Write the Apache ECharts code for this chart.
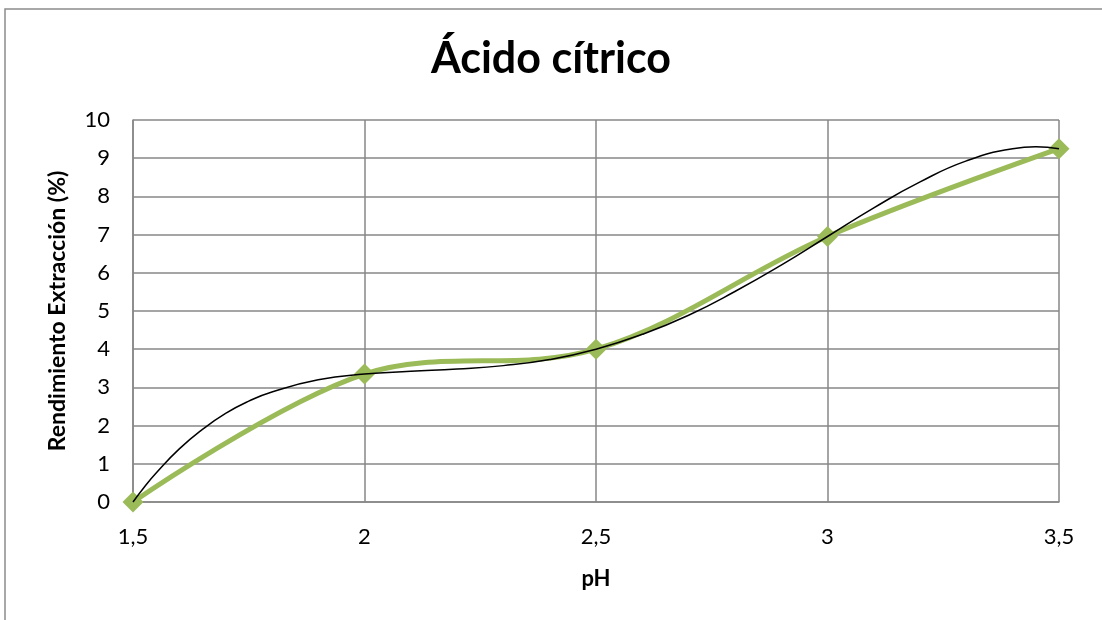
<!DOCTYPE html>
<html>
<head>
<meta charset="utf-8">
<script src="https://cdn.jsdelivr.net/npm/echarts@6/dist/echarts.min.js"></script>
<style>
html,body{margin:0;padding:0;background:#fff;}
#chart{width:1102px;height:620px;}
</style>
</head>
<body>
<div id="chart"></div>
<script>
// Data
const pH = [1.5, 2, 2.5, 3, 3.5];
const rendimiento = [0, 3.35, 4.0, 6.95, 9.25];
// Trend curve (thin black)
const trendX = [1.5, 1.525, 1.55, 1.6, 1.65, 1.7, 1.75, 1.8, 1.9, 2.0, 2.1, 2.2, 2.3, 2.4, 2.5, 2.6, 2.7, 2.8, 2.9, 3.0, 3.1, 3.2, 3.3, 3.4, 3.45, 3.5];
const trendY = [0, 0.40, 0.76, 1.39, 1.90, 2.32, 2.64, 2.88, 3.20, 3.35, 3.42, 3.48, 3.57, 3.73, 4.0, 4.39, 4.89, 5.51, 6.20, 6.95, 7.70, 8.38, 8.93, 9.25, 9.30, 9.25];
const xTicks = [1.5, 2, 2.5, 3, 3.5];
const yTicks = [0, 1, 2, 3, 4, 5, 6, 7, 8, 9, 10];

const FONT = 'Lato, "Open Sans", sans-serif';
const chart = echarts.init(document.getElementById('chart'));
chart.setOption({
  animation: false,
  backgroundColor: '#fff',
  graphic: [{
    type: 'rect',
    shape: {x: 5, y: 9, width: 1200, height: 700},
    style: {fill: 'none', stroke: '#8c8c8c', lineWidth: 1.5},
    silent: true, z: -10
  }],
  title: {
    text: 'Ácido cítrico',
    left: 'center',
    top: 33,
    textStyle: {fontFamily: FONT, fontSize: 43, fontWeight: 'bold', color: '#000'}
  },
  grid: {left: 133, right: 43, top: 120, bottom: 118, containLabel: false},
  xAxis: {
    type: 'value',
    min: xTicks[0], max: xTicks[xTicks.length - 1], interval: 0.5,
    name: 'pH', nameLocation: 'middle', nameGap: 66,
    nameTextStyle: {fontFamily: FONT, fontSize: 22, fontWeight: 'bold', color: '#000'},
    axisLine: {show: true, lineStyle: {color: '#878787', width: 1.5}},
    axisTick: {show: false},
    axisLabel: {fontFamily: FONT, fontSize: 22, color: '#000', margin: 24,
      formatter: v => String(v).replace('.', ',')},
    splitLine: {show: true, lineStyle: {color: '#878787', width: 1.5}}
  },
  yAxis: {
    type: 'value',
    min: yTicks[0], max: yTicks[yTicks.length - 1], interval: 1,
    name: 'Rendimiento Extracción (%)', nameLocation: 'middle', nameGap: 64, nameRotate: 90,
    nameTextStyle: {fontFamily: FONT, fontSize: 23, fontWeight: 'bold', color: '#000'},
    axisLine: {show: true, lineStyle: {color: '#878787', width: 1.5}},
    axisTick: {show: false},
    axisLabel: {fontFamily: FONT, fontSize: 22, color: '#000', margin: 23},
    splitLine: {show: true, lineStyle: {color: '#878787', width: 1.5}}
  },
  series: [
    {
      type: 'line',
      data: pH.map((x, i) => [x, rendimiento[i]]),
      smooth: 0.35,
      clip: false,
      lineStyle: {color: '#9BBB59', width: 5},
      itemStyle: {color: '#9BBB59', borderWidth: 0},
      symbol: 'diamond',
      symbolSize: 21,
      z: 2
    },
    {
      type: 'line',
      data: trendX.map((x, i) => [x, trendY[i]]),
      smooth: true,
      clip: false,
      showSymbol: false,
      symbol: 'none',
      lineStyle: {color: '#000', width: 1.5},
      z: 3
    }
  ]
});
</script>
</body>
</html>
